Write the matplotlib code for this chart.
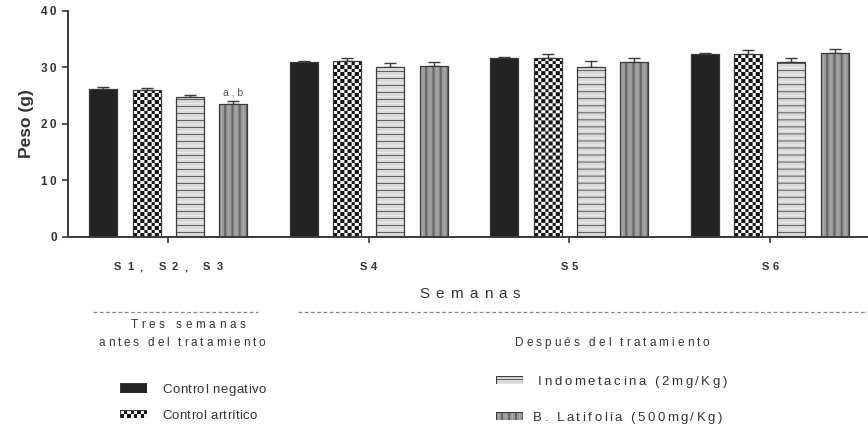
import numpy as np
import matplotlib
matplotlib.use("Agg")
import matplotlib.pyplot as plt
from matplotlib.patches import Rectangle
from matplotlib.lines import Line2D
from matplotlib.font_manager import FontProperties

plt.rcParams['font.family'] = ['Liberation Sans', 'DejaVu Sans']

weeks = ["S1, S2, S3", "S4", "S5", "S6"]
groups = ["Control negativo", "Control artrítico",
          "Indometacina (2mg/Kg)", "B. Latifolia (500mg/Kg)"]
# mean body weight (g) per group, one list per week block
control_neg = [26.2, 30.9, 31.7, 32.4]
control_art = [26.0, 31.1, 31.7, 32.3]
indometacina = [24.7, 30.0, 30.1, 31.0]
latifolia = [23.5, 30.2, 30.9, 32.5]
# standard error (upper bar only)
err_neg = [0.3, 0.3, 0.1, 0.1]
err_art = [0.4, 0.5, 0.6, 0.7]
err_ind = [0.5, 0.7, 1.0, 0.6]
err_lat = [0.6, 0.7, 0.7, 0.8]

TXT = "#333333"
W, H = 868, 429


def texture(kind, nx, ny):
    nx, ny = max(nx, 1), max(ny, 1)
    yy, xx = np.mgrid[0:ny, 0:nx]
    img = np.ones((ny, nx, 3))
    if kind == "solid":
        img[:] = 0.14
    elif kind == "checker":
        cell = nx / 8.0
        c = ((xx // cell).astype(int) + (yy // cell).astype(int)) % 2
        img[:] = np.where(c[..., None] == 0, 0.08, 0.97)
    elif kind == "hlines":
        ph = (yy + 3) % 7
        img[:] = 0.85
        img[ph == 3] = 0.93
        img[ph == 0] = 0.38
    elif kind == "vlines":
        px = (xx + 2) % 7
        img[:] = 0.60
        img[(px == 0) | (px == 1)] = 0.40
        img[px == 4] = 0.68
    return img


def fill_patch(ax, patch, kind):
    x0, y0 = patch.get_x(), patch.get_y()
    w, h = patch.get_width(), patch.get_height()
    p0 = ax.transData.transform((x0, y0))
    p1 = ax.transData.transform((x0 + w, y0 + h))
    nx = int(round(abs(p1[0] - p0[0])))
    ny = int(round(abs(p1[1] - p0[1])))
    im = ax.imshow(texture(kind, nx, ny), extent=(x0, x0 + w, y0, y0 + h),
                   aspect="auto", interpolation="bilinear", zorder=2,
                   origin="lower")
    im.set_clip_path(patch)


fig = plt.figure(figsize=(8.68, 4.29), dpi=100)
renderer = fig.canvas.get_renderer()


def tracked(xc, yc, s, size, width=None, ha="center", weight="normal",
            color=TXT):
    # letter-spaced text: xc, yc in pixels from the top-left corner
    fp = FontProperties(family=['Liberation Sans'], size=size, weight=weight)
    base = renderer.get_text_width_height_descent("xx", fp, ismath=False)[0]
    adv = [renderer.get_text_width_height_descent("x" + c + "x", fp,
                                                  ismath=False)[0] - base
           for c in s]
    natural = sum(adv)
    track = 0.0 if width is None else (width - natural) / max(len(s) - 1, 1)
    total = natural + track * (len(s) - 1)
    x = xc - total / 2 if ha == "center" else xc
    ybase = yc + 0.36 * size * 100 / 72
    for c, a in zip(s, adv):
        if c != " ":
            fig.text(x / W, 1 - ybase / H, c, ha="left", va="baseline",
                     fontproperties=fp, color=color)
        x += a + track


ax = fig.add_axes([0.0783, 0.4476, 0.9217, 0.527])
ax.set_xlim(-0.5, 3.49)
ax.set_ylim(0, 40)

x = np.arange(len(weeks))
width = 0.14
offsets = [-0.325, -0.108, 0.108, 0.325]
series = [control_neg, control_art, indometacina, latifolia]
errors = [err_neg, err_art, err_ind, err_lat]
kinds = ["solid", "checker", "hlines", "vlines"]

for off, vals, errs, kind in zip(offsets, series, errors, kinds):
    bars = ax.bar(x + off, vals, width, facecolor="none",
                  edgecolor="#3a3a3a", linewidth=0.9, zorder=3)
    for b in bars:
        fill_patch(ax, b, kind)
    ax.errorbar(x + off, vals, yerr=[np.zeros(len(vals)), errs], fmt="none",
                ecolor="#3a3a3a", elinewidth=1.0, capsize=4.5,
                capthick=1.0, zorder=1.5)

ax.text(x[0] + offsets[3], latifolia[0] + err_lat[0] + 0.6, "a , b",
        ha="center", va="bottom", fontsize=7.5, color="#555555")

for s in ["top", "right"]:
    ax.spines[s].set_visible(False)
for s in ["left", "bottom"]:
    ax.spines[s].set_color("#3a3a3a")
    ax.spines[s].set_linewidth(1.4)

ax.set_yticks([0, 10, 20, 30, 40])
ax.set_yticklabels(["0", "1\u20090", "2\u20090", "3\u20090", "4\u20090"],
                   fontsize=8.5, fontweight="bold", color=TXT)
ax.tick_params(axis="y", length=4, width=1.2, color="#3a3a3a", pad=4)
ax.set_xticks(x)
ax.set_xticklabels([])
ax.tick_params(axis="x", length=4, width=1.2, color="#3a3a3a")
ax.set_ylabel("Peso (g)", fontsize=12.5, fontweight="bold", color=TXT,
              labelpad=5)

# week labels under the ticks
label_widths = [109, 17, 17, 17]
for xi, lab, lw in zip(x, weeks, label_widths):
    px = ax.transData.transform((xi, 0))[0]
    tracked(px, 266, lab, 8, width=lw, weight="bold")

tracked(470, 293, "Semanas", 11, width=101)

# period separators
fig.add_artist(Line2D([93 / W, 258 / W], [1 - 312 / H] * 2,
                      linestyle=(0, (3, 2)), color="#888888", lw=0.9))
fig.add_artist(Line2D([298 / W, 1.0], [1 - 312 / H] * 2,
                      linestyle=(0, (3, 2)), color="#888888", lw=0.9))
tracked(188, 324, "Tres semanas", 8.5, width=115)
tracked(182, 342, "antes del tratamiento", 8.5, width=167)
tracked(612, 342, "Después del tratamiento", 8.5, width=195)

# legend swatches
legend_pos = [(120, 383, 162, 104), (120, 410, 162, 95),
              (496, 376, 538, 189), (496, 412, 533, 189)]
for (px, py, tx, tw), name, kind in zip(legend_pos, groups, kinds):
    h = 10 if kind == "solid" else 8
    lax = fig.add_axes([px / W, 1 - (py + h) / H, 27 / W, h / H])
    lax.set_xlim(0, 1)
    lax.set_ylim(0, 1)
    lax.axis("off")
    sw = Rectangle((0, 0), 1, 1, facecolor="none", edgecolor="#3a3a3a",
                   lw=0.8, zorder=3)
    lax.add_patch(sw)
    fill_patch(lax, sw, kind)
    tracked(tx, py + h / 2, name, 9.5, width=tw, ha="left")

fig.savefig("out.png", dpi=100)
